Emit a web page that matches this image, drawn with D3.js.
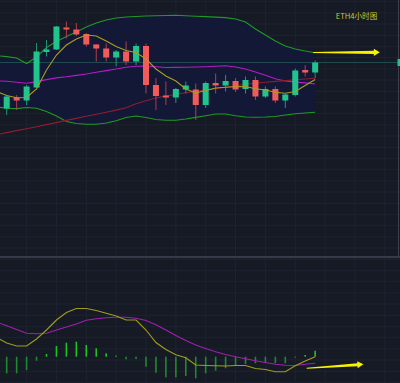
<!DOCTYPE html>
<html><head><meta charset="utf-8">
<script src="https://cdn.jsdelivr.net/npm/d3@7"></script>
<style>html,body{margin:0;padding:0;background:#161a25;overflow:hidden}</style>
</head><body><svg id="c" width="400" height="383"></svg>
<script>
// ---- data (ETH 4h candles, index 0 is partly off the left edge) ----
const open  = [3206,3183,3205,3199,3225,3296,3301,3345,3341,3332,3311,3303,3285,3297,3277,3308,3230,3209,3205,3221,3221,3190,3234,3229,3238,3222,3240,3207,3222,3199,3210,3260,3255];
const high  = [3210,3210,3210,3230,3314,3320,3348,3357,3354,3334,3312,3313,3300,3317,3313,3313,3244,3237,3224,3237,3233,3237,3253,3250,3244,3247,3247,3227,3227,3212,3263,3270,3279];
const low   = [3178,3170,3180,3190,3224,3287,3300,3323,3328,3307,3277,3277,3267,3270,3270,3213,3180,3190,3194,3213,3160,3184,3213,3217,3216,3213,3200,3204,3194,3184,3207,3247,3244];
const close = [3190,3207,3199,3227,3297,3301,3347,3341,3331,3311,3303,3285,3297,3277,3308,3230,3208,3205,3222,3229,3190,3234,3229,3238,3221,3240,3207,3222,3199,3211,3259,3255,3275];

const bbUpper  = [3288.4,3286.8,3284,3273,3286,3305,3317,3327,3336,3346,3354,3360,3364,3366,3367,3368,3368.4,3369,3369.4,3368.4,3367.6,3366.8,3365.8,3364.8,3362,3356,3342,3330,3318,3308,3302,3298,3294.6];
const bbMiddle = [3238.4,3237.4,3235.4,3233.4,3236.8,3240.8,3244.2,3246.4,3249.2,3252,3255.4,3258.8,3262,3265.4,3267.6,3268,3266.4,3265,3265.2,3265.6,3266,3266.6,3267.6,3268.4,3266,3262,3256,3249.4,3242.4,3238,3235.8,3234.2,3232];
const bbLower  = [3186,3183.4,3182.8,3185,3183.6,3177,3168,3157,3153,3151.6,3151.6,3154,3158.6,3165,3168,3165,3161,3159.6,3159.6,3162,3165.2,3168.6,3172,3172,3168.4,3166,3165.6,3166,3167,3170,3172.4,3174,3175.4];
const maSlow   = [3130.6,3134.8,3138.8,3142.6,3146.6,3150.8,3154.8,3159.2,3163.2,3167.4,3171.4,3175.6,3179.8,3184.6,3192.6,3198.6,3204,3208,3211,3214.4,3217.4,3219.8,3222.6,3225.6,3228.6,3231.4,3233.6,3235.4,3237.2,3238.8,3240.6,3242,3243.4];
const maFast   = [3217,3209,3204.4,3205,3222,3260,3290,3310,3322,3330,3328,3318,3307,3299,3295,3282,3262,3248,3238,3222,3214,3219,3224,3225.4,3226.4,3227,3222.6,3220,3215.4,3213.6,3217,3229,3241];

const macdLine = [9.6,6.85,5.35,5.35,8.85,13.35,18.35,22.1,24.1,24.1,23.1,21.7,20.35,18.35,18.35,13.35,7.1,3.6,1.0,-0.5,-4.15,-4.4,-4.55,-4.65,-4.4,-4.4,-5.9,-6.4,-7.5,-7.5,-4.55,-2.15,0];
const signalLine = [17.35,15.45,13.6,11.7,11.45,11.75,13.35,14.85,16.35,18.25,18.95,19.45,19.7,19.7,19.2,18.1,16,13.35,10.6,8.1,5.85,4.1,2.45,1.1,-0.05,-1.05,-2.05,-2.9,-3.8,-4.3,-4.4,-3.8,-3.3];
const histogram = [-9,-8.3,-8.3,-6.65,-2,1.35,5.35,7,7.5,5.85,4.2,1.7,0.5,-1.3,-1.15,-5,-8,-10.3,-10.3,-9.65,-10.8,-8.3,-7,-5.8,-4.65,-3.65,-3.3,-3,-3.3,-3.3,-0.5,0.85,3];

const titleText = "ETH4小时图";
// annotation arrows: [x index from, price/value from, x index to, value to]
const priceArrow = [31.8, 3295, 38.5, 3295.4];
const macdArrow  = [31.15, -5.8, 36.85, -3.8];

// ---- drawing ----
const svg = d3.select('#c');
const W = 400, H = 383, split = 257;
const idx = d3.range(open.length);
const x  = d3.scaleLinear().domain([0, 32]).range([-3.25, 315.15]);
const y  = d3.scaleLinear().domain([3400, 2886]).range([0, split]);
const ym = d3.scaleLinear().domain([49.85, -13.15]).range([split, H]);

svg.append('rect').attr('width', W).attr('height', H).attr('fill', '#161a25');

// grid
const grid = svg.append('g').attr('stroke', '#1e2331').attr('stroke-width', 1);
d3.range(0, 40, 3).forEach(i => {
  grid.append('line').attr('x1', x(i)).attr('x2', x(i)).attr('y1', 0).attr('y2', H);
});
d3.range(1.6, H, 11.2).forEach(v => {
  grid.append('line').attr('x1', 0).attr('x2', W).attr('y1', v).attr('y2', v);
});

// price pane
const pane = svg.append('g');
pane.append('path').datum(idx)
  .attr('d', d3.area().x(i => x(i)).y0(i => y(bbLower[i])).y1(i => y(bbUpper[i])))
  .attr('fill', '#131838').attr('opacity', 0.95);

const line = (arr, sc) => d3.line().x(i => x(i)).y(i => sc(arr[i]));
function drawLine(arr, sc, color, w) {
  pane.append('path').datum(idx).attr('d', line(arr, sc)).attr('fill', 'none')
    .attr('stroke', color).attr('stroke-width', w);
}
// last price line
pane.append('line').attr('x1', 0).attr('x2', W)
  .attr('y1', y(close[close.length - 1])).attr('y2', y(close[close.length - 1]))
  .attr('stroke', '#1f4b50').attr('stroke-width', 1);

drawLine(bbUpper, y, '#1f9a24', 1.1);
drawLine(bbLower, y, '#1f9a24', 1.1);
drawLine(bbMiddle, y, '#b41cc4', 1.1);
drawLine(maSlow, y, '#8f1d30', 1.1);

const up = '#22c48e', dn = '#f35b5b';
const cg = pane.append('g');
idx.forEach(i => {
  const isUp = close[i] >= open[i];
  cg.append('line').attr('x1', x(i)).attr('x2', x(i))
    .attr('y1', y(high[i])).attr('y2', y(low[i]))
    .attr('stroke', isUp ? '#1e9873' : '#a9404e').attr('stroke-width', 1);
  const t = y(Math.max(open[i], close[i])), b = y(Math.min(open[i], close[i]));
  cg.append('rect').attr('x', x(i) - 3).attr('width', 6)
    .attr('y', t).attr('height', Math.max(1.5, b - t))
    .attr('fill', isUp ? up : dn);
});
drawLine(maFast, y, '#aa9e1e', 1.1);

// right scale edge
svg.append('line').attr('x1', 398.5).attr('x2', 398.5).attr('y1', 0).attr('y2', split)
  .attr('stroke', '#3c404c').attr('stroke-width', 1);
svg.append('rect').attr('x', 397.5).attr('width', 5)
  .attr('y', y(close[close.length - 1]) - 3.5).attr('height', 7).attr('fill', up);

// separator
svg.append('line').attr('x1', 0).attr('x2', W).attr('y1', split).attr('y2', split)
  .attr('stroke', '#363a46').attr('stroke-width', 2);

// MACD pane
const mg = svg.append('g');
idx.forEach(i => {
  const v = histogram[i];
  mg.append('rect').attr('x', x(i) - 0.8).attr('width', 1.6)
    .attr('y', Math.min(ym(0), ym(v))).attr('height', Math.abs(ym(v) - ym(0)))
    .attr('fill', v >= 0 ? '#1dc421' : '#1f8a2d');
});
mg.append('path').datum(idx).attr('d', line(signalLine, ym)).attr('fill', 'none')
  .attr('stroke', '#a01fb0').attr('stroke-width', 1.1);
mg.append('path').datum(idx).attr('d', line(macdLine, ym)).attr('fill', 'none')
  .attr('stroke', '#a09c1c').attr('stroke-width', 1.1);

// arrows
function arrow(x0, y0, x1, y1) {
  const dx = x1 - x0, dy = y1 - y0, L = Math.hypot(dx, dy);
  const ux = dx / L, uy = dy / L, nx = -uy, ny = ux;
  const hl = 6, hb = x => [x1 - ux * hl, y1 - uy * hl];
  const [bx, by] = hb();
  const pts = [
    [x0 + nx * 0.5, y0 + ny * 0.5],
    [bx + nx * 1.6, by + ny * 1.6],
    [bx + nx * 3.6, by + ny * 3.6],
    [x1, y1],
    [bx - nx * 3.6, by - ny * 3.6],
    [bx - nx * 1.6, by - ny * 1.6],
    [x0 - nx * 0.5, y0 - ny * 0.5]
  ];
  svg.append('polygon').attr('points', pts.map(p => p.join(',')).join(' ')).attr('fill', '#f6f200');
}
arrow(x(priceArrow[0]), y(priceArrow[1]), x(priceArrow[2]), y(priceArrow[3]));
arrow(x(macdArrow[0]), ym(macdArrow[1]), x(macdArrow[2]), ym(macdArrow[3]));

// title
svg.append('text').attr('x', 356.5).attr('y', 18.5).attr('text-anchor', 'middle')
  .attr('font-family', '"Noto Sans CJK SC", "Noto Sans", sans-serif').attr('font-size', 7.6)
  .attr('fill', '#cfc52c').text(titleText);
</script></body></html>
